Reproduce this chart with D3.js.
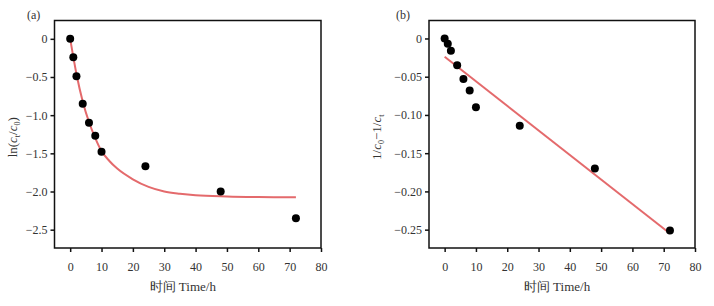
<!DOCTYPE html>
<html>
<head>
<meta charset="utf-8">
<script src="https://cdn.jsdelivr.net/npm/d3@7"></script>
<style>
  body { margin: 0; background: #fff; }
  svg text { font-family: "Liberation Serif", "Times New Roman", serif; fill: #333; }
</style>
</head>
<body>
<div id="chart"></div>
<script>
// measured times (h)
const times = [0, 1, 2, 4, 6, 8, 10, 24, 48, 72];
// panel (a): ln(ct/c0)
const lnValues = [0, -0.24, -0.49, -0.85, -1.10, -1.27, -1.48, -1.67, -2.00, -2.35];
// panel (a) fitted curve
const fitATimes = [0, 2, 4, 6, 8, 10, 12.5, 15, 20, 25, 30, 35, 40, 50, 60, 72];
const fitAValues = [0, -0.46, -0.82, -1.09, -1.30, -1.47, -1.60, -1.70, -1.84, -1.94, -2.00, -2.03, -2.05, -2.065, -2.072, -2.075];
// panel (b): 1/c0 - 1/ct
const invValues = [0, -0.007, -0.016, -0.035, -0.053, -0.068, -0.090, -0.114, -0.170, -0.251];
// panel (b) fitted line end points
const fitBTimes = [0, 72];
const fitBValues = [-0.024, -0.255];

const xTicks = [0, 10, 20, 30, 40, 50, 60, 70, 80];
const yTicksA = [0, -0.5, -1.0, -1.5, -2.0, -2.5];
const yTicksB = [0, -0.05, -0.10, -0.15, -0.20, -0.25];

const width = 714;
const height = 306;

const svg = d3.select("#chart")
  .append("svg")
  .attr("width", width)
  .attr("height", height);

function minus(s) { return s.replace("-", "\u2212"); }

function drawPanel(opts) {
  const g = svg.append("g");
  const left = opts.left, right = opts.right, top = 20.5, bottom = 248;

  const x = d3.scaleLinear().domain([-5, 80]).range([left, right]);
  const y = d3.scaleLinear().domain(opts.yDomain).range([bottom, top]);

  // frame
  g.append("rect")
    .attr("x", left)
    .attr("y", top)
    .attr("width", right - left)
    .attr("height", bottom - top)
    .attr("fill", "none")
    .attr("stroke", "#111")
    .attr("stroke-width", 1.5);

  // X Axis
  const xa = g.append("g")
    .attr("transform", `translate(0,${bottom})`)
    .call(d3.axisBottom(x).tickValues(xTicks).tickSize(4).tickSizeOuter(0).tickPadding(10));
  xa.select(".domain").remove();

  // Y Axis
  const ya = g.append("g")
    .attr("transform", `translate(${left},0)`)
    .call(d3.axisLeft(y).tickValues(opts.yTicks).tickSize(4).tickSizeOuter(0).tickPadding(3)
      .tickFormat(opts.fmt));
  ya.select(".domain").remove();

  g.selectAll(".tick line").attr("stroke", "#111").attr("stroke-width", 1.5);
  g.selectAll(".tick text")
    .style("font-family", "Liberation Serif, serif")
    .style("font-size", "12px")
    .attr("fill", "#333");

  // fit line
  const line = d3.line()
    .x((d, i) => x(opts.fitT[i]))
    .y(d => y(d))
    .curve(d3.curveMonotoneX);
  g.append("path")
    .datum(opts.fitV)
    .attr("d", line)
    .attr("fill", "none")
    .attr("stroke", "#e46a6c")
    .attr("stroke-width", 2);

  // points
  g.selectAll("circle")
    .data(opts.values)
    .join("circle")
    .attr("cx", (d, i) => x(times[i]))
    .attr("cy", d => y(d))
    .attr("r", 4)
    .attr("fill", "#000");

  // panel label
  g.append("text")
    .attr("x", opts.tagX)
    .attr("y", 19)
    .style("font-size", "12px")
    .text(opts.tag);

  // X Axis Label
  g.append("text")
    .attr("x", (left + right) / 2 - 5)
    .attr("y", 291)
    .attr("text-anchor", "middle")
    .style("font-size", "13px")
    .text("时间 Time/h");

  // Y Axis Label
  const yl = g.append("text")
    .attr("transform", `translate(${opts.ylabX},${(top + bottom) / 2 + 3}) rotate(-90)`)
    .attr("text-anchor", "middle")
    .style("font-size", "13px");
  opts.ylab(yl);
}

drawPanel({
  left: 54.5, right: 321, yDomain: [-2.74, 0.24], yTicks: yTicksA,
  fmt: d => d === 0 ? "0" : minus(d3.format(".1f")(d)),
  fitT: fitATimes, fitV: fitAValues, values: lnValues,
  tag: "(a)", tagX: 27, ylabX: 17,
  ylab: t => {
    t.append("tspan").text("ln(");
    t.append("tspan").style("font-style", "italic").text("c");
    t.append("tspan").attr("dy", 3).style("font-size", "8px").text("t");
    t.append("tspan").attr("dy", -3).text("/");
    t.append("tspan").style("font-style", "italic").text("c");
    t.append("tspan").attr("dy", 3).style("font-size", "8px").text("0");
    t.append("tspan").attr("dy", -3).text(")");
  }
});

drawPanel({
  left: 429, right: 695, yDomain: [-0.274, 0.0235], yTicks: yTicksB,
  fmt: d => d === 0 ? "0" : minus(d3.format(".2f")(d)),
  fitT: fitBTimes, fitV: fitBValues, values: invValues,
  tag: "(b)", tagX: 396, ylabX: 381,
  ylab: t => {
    t.append("tspan").text("1/");
    t.append("tspan").style("font-style", "italic").text("c");
    t.append("tspan").attr("dy", 3).style("font-size", "8px").text("0");
    t.append("tspan").attr("dy", -3).text("\u22121/");
    t.append("tspan").style("font-style", "italic").text("c");
    t.append("tspan").attr("dy", 3).style("font-size", "8px").text("t");
  }
});
</script>
</body>
</html>
